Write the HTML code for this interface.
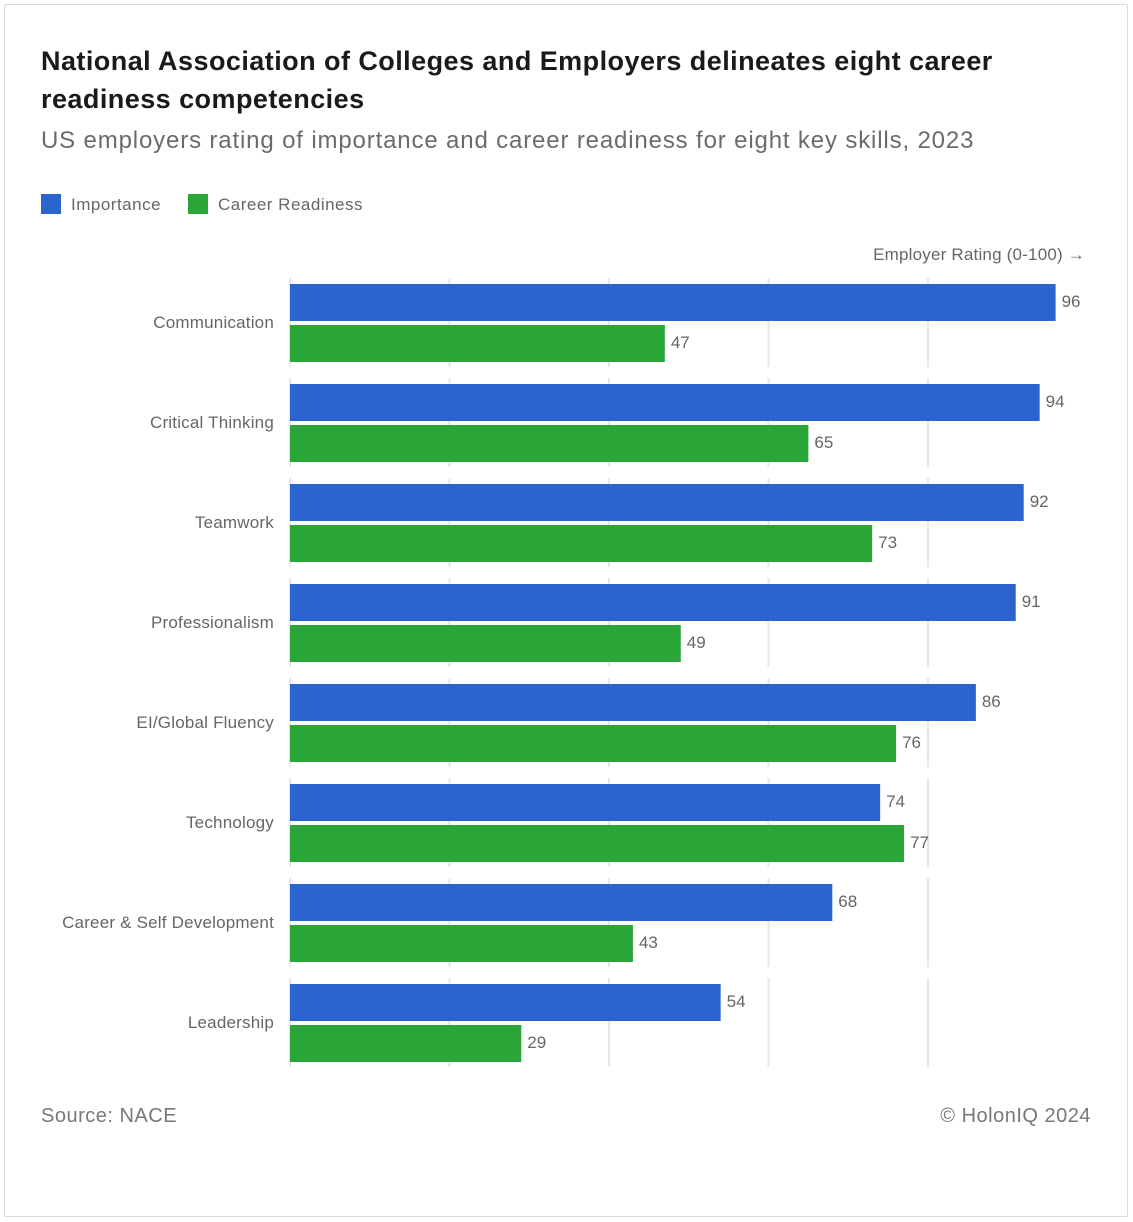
<!DOCTYPE html>
<html><head><meta charset="utf-8"><style>
body{margin:0;background:#fff;font-family:"Liberation Sans",Arial,sans-serif;}
#card{position:absolute;left:4px;top:4px;width:1122px;height:1211px;border:1px solid #d9d9d9;border-radius:2px;}
.t{position:absolute;white-space:nowrap;}
</style></head><body>
<div id="card"></div>
<div class="t" style="left:41px;top:42px;font-size:27px;font-weight:bold;color:#1a1a1a;line-height:38px;letter-spacing:0.45px;">National Association of Colleges and Employers delineates eight career<br>readiness competencies</div>
<div class="t" style="left:41px;top:127px;font-size:24px;color:#6b6b6b;letter-spacing:0.85px;">US employers rating of importance and career readiness for eight key skills, 2023</div>
<div class="t" style="left:41px;top:194px;font-size:17px;color:#666;letter-spacing:0.5px;"><span style="display:inline-block;width:20px;height:20px;background:#2a64cc;vertical-align:-4px;margin-right:10px;"></span>Importance</div>
<div class="t" style="left:188px;top:194px;font-size:17px;color:#666;letter-spacing:0.5px;"><span style="display:inline-block;width:20px;height:20px;background:#2aa537;vertical-align:-4px;margin-right:10px;"></span>Career Readiness</div>
<div class="t" style="right:48px;top:245px;font-size:17px;color:#666;letter-spacing:0.2px;">Employer Rating (0-100) →</div>
<svg id="chart" width="1133" height="1222" style="position:absolute;left:0;top:0;"></svg>
<div class="t" style="left:41px;top:1105px;font-size:20px;color:#777;letter-spacing:0.5px;">Source: NACE</div>
<div class="t" style="right:42px;top:1105px;font-size:20px;color:#777;letter-spacing:0.5px;">© HolonIQ 2024</div>
<script>
const categories=["Communication","Critical Thinking","Teamwork","Professionalism","EI/Global Fluency","Technology","Career & Self Development","Leadership"];
const importance=[96,94,92,91,86,74,68,54];
const readiness=[47,65,73,49,76,77,43,29];
const gridTicks=[0,20,40,60,80];
const svg=document.getElementById('chart');
const NS='http://www.w3.org/2000/svg';
const x0=290,unit=7.975,top0=284,band=100,bh=37;
const xs=v=>x0+v*unit;
function mk(t,a){const e=document.createElementNS(NS,t);for(const k in a)e.setAttribute(k,a[k]);svg.appendChild(e);return e;}
categories.forEach((c,i)=>{
  const y=top0+i*band;
  gridTicks.forEach(g=>{
    const l=mk('line',{x1:xs(g),x2:xs(g),y1:y-6,y2:y+83,stroke:'#e6e6e6','stroke-width':2});
    
    
  });
  const lab=mk('text',{x:274,y:y+44,'text-anchor':'end','font-size':17,fill:'#666','font-family':'Liberation Sans, sans-serif','letter-spacing':'0.2'});
  lab.textContent=c;
  
  
  [[importance[i],'#2a64cc',y],[readiness[i],'#2aa537',y+41]].forEach(([v,col,yy],s)=>{
    const r=mk('rect',{x:x0,y:yy,width:xs(v)-x0,height:bh,fill:col});
    
    
    const t=mk('text',{x:xs(v)+6,y:yy+23,'font-size':17,fill:'#666','font-family':'Liberation Sans, sans-serif'});
    t.textContent=v;
    
    
  });
});
</script>
</body></html>
